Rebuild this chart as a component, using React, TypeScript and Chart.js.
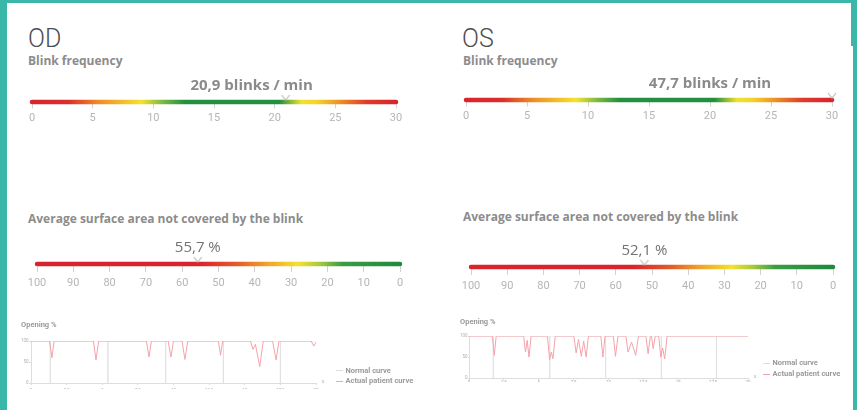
import React, { useEffect, useRef } from "react";
import { Chart, registerables } from "chart.js";

Chart.register(...registerables);

const FONT = "Roboto, 'Noto Sans', sans-serif";
const FONT2 = "'Open Sans', 'Noto Sans', sans-serif";
Chart.defaults.font.family = FONT;

// ---------------- data ----------------
const eyeNames = ["OD", "OS"];
const blinkRates = [20.9, 47.7]; // blinks / min
const uncoveredSurface = [55.7, 52.1]; // %
const blinkScaleTicks = [0, 5, 10, 15, 20, 25, 30];
const surfaceScaleTicks = [100, 90, 80, 70, 60, 50, 40, 30, 20, 10, 0];
const blinkUnit = "blinks / min";
const surfaceUnit = "%";

const timeTicks = [0, 2.5, 5, 7.5, 10, 12.5, 15, 17.5, 20];
const openingTicks = [0, 50, 100];

const odPatientTime = [0, 1.3, 1.47, 1.62, 4.38, 4.56, 4.75, 8.1, 8.28, 8.45, 9.62, 9.82, 10.0, 10.6, 10.8, 11.0, 13.15, 13.3, 13.45, 15.4, 15.58, 15.75, 16.05, 16.3, 16.95, 17.2, 17.4, 19.65, 19.85, 20];
const odPatientOpening = [100, 100, 60, 100, 100, 55, 100, 100, 62, 100, 100, 62, 100, 100, 56, 100, 100, 66, 100, 100, 80, 92, 39, 100, 100, 55, 100, 100, 88, 97];
const odNormalBlinkTimes = [1.35, 5.4, 9.45, 13.5, 17.5];

const osPatientTime = [0, 1.68, 1.81, 1.95, 3.92, 4.05, 4.17, 4.3, 4.45, 5.62, 5.78, 5.9, 6.02, 6.18, 7.52, 7.68, 7.85, 8.05, 8.22, 8.4, 8.56, 9.45, 9.6, 9.75, 10.35, 10.5, 10.68, 11.25, 11.4, 11.65, 11.95, 12.15, 12.68, 12.84, 13.0, 13.08, 13.2, 13.35, 13.6, 13.75, 13.88, 14.03, 14.2, 20];
const osPatientOpening = [100, 100, 54, 100, 100, 62, 90, 50, 100, 100, 44, 62, 46, 100, 100, 60, 92, 52, 88, 50, 100, 100, 50, 100, 100, 52, 100, 100, 62, 86, 54, 100, 100, 58, 100, 100, 70, 100, 100, 50, 72, 46, 100, 100];
const osNormalBlinkTimes = [1.74, 5.79, 9.79, 13.79, 17.74];

const legendNormal = "Normal curve";
const legendPatient = "Actual patient curve";
const openingTitle = "Opening %";

// ---------------- styles ----------------
const TEAL = "#3ab7a9";
const RED = "#d8252d";
const NORMAL_COLOR = "#dedede";
const PATIENT_COLOR = "#f4a3ab";
const blinkStops: [number, string][] = [
  [0, RED], [0.1, "#da2f2b"], [0.18, "#ee8a26"], [0.3, "#f5e22e"], [0.36, "#7ab844"],
  [0.42, "#22903e"], [0.68, "#23903e"], [0.74, "#eee22f"], [0.78, "#f4d52c"],
  [0.84, "#ee9626"], [0.92, "#df3a2b"], [1, RED],
];
const surfaceStops: [number, string][] = [
  [0, RED], [0.45, RED], [0.55, "#e4592a"], [0.63, "#f0a02a"], [0.72, "#f3e12f"],
  [0.78, "#a6c83c"], [0.84, "#3a9d44"], [1, "#1e8a3c"],
];

function makeChevron(color: string) {
  const c = document.createElement("canvas");
  c.width = 10;
  c.height = 20;
  const g = c.getContext("2d")!;
  g.strokeStyle = color;
  g.lineWidth = 1.2;
  g.beginPath();
  g.moveTo(1, 3);
  g.lineTo(5, 8);
  g.lineTo(9, 3);
  g.stroke();
  return c;
}

type GaugeCfg = {
  ticks: number[];
  reverse: boolean;
  value: number;
  unit: string;
  stops: [number, string][];
  labelDx: number;
  labelFont: string;
  labelColor: string;
  tickLength: number;
  tickPad: number;
  axisH: number;
};

function makeGauge(canvas: HTMLCanvasElement, g: GaugeCfg) {
  const min = Math.min(...g.ticks);
  const max = Math.max(...g.ticks);
  const markerValue = Math.min(max, Math.max(min, g.value));
  const labelPlugin = {
    id: "valueLabel",
    afterDatasetsDraw(chart: any) {
      const ctx = chart.ctx;
      const x = chart.scales.x.getPixelForValue(markerValue) + g.labelDx;
      const y = chart.chartArea.bottom - 12.5;
      ctx.save();
      ctx.font = g.labelFont;
      ctx.fillStyle = g.labelColor;
      ctx.textAlign = "center";
      ctx.textBaseline = "alphabetic";
      ctx.fillText(g.value.toFixed(1).replace(".", ",") + " " + g.unit, x, y);
      ctx.restore();
    },
  };
  return new Chart(canvas, {
    type: "scatter",
    data: {
      datasets: [
        {
          data: [{ x: min, y: 0 }, { x: max, y: 0 }],
          showLine: true,
          borderWidth: 4.5,
          borderCapStyle: "round",
          pointRadius: 0,
          clip: false,
          order: 2,
          borderColor: (c: any) => {
            const chart = c.chart;
            const area = chart.chartArea;
            if (!area) return RED;
            const grad = chart.ctx.createLinearGradient(area.left, 0, area.right, 0);
            g.stops.forEach(([o, col]) => grad.addColorStop(o, col));
            return grad;
          },
        } as any,
        {
          data: [{ x: markerValue, y: 0 }],
          showLine: false,
          pointStyle: makeChevron("#bdbdbd"),
          pointRadius: 5,
          clip: false,
          order: 1,
        } as any,
      ],
    },
    options: {
      responsive: false,
      animation: false,
      events: [],
      layout: { padding: { left: 14, right: 14, top: 0, bottom: 0 } },
      plugins: { legend: { display: false }, tooltip: { enabled: false }, title: { display: false } },
      scales: {
        x: {
          type: "linear",
          min,
          max,
          reverse: g.reverse,
          afterBuildTicks: (s: any) => {
            s.ticks = g.ticks.map((v) => ({ value: v }));
          },
          afterFit: (s: any) => {
            s.height = g.axisH;
          },
          grid: { drawOnChartArea: false, drawTicks: true, tickLength: g.tickLength, color: "#d2d2d2", lineWidth: 1 },
          border: { display: false },
          ticks: { font: { size: 11, family: FONT }, color: "#b5b5b5", padding: g.tickPad, maxRotation: 0, autoSkip: false },
        },
        y: { display: false, min: 0, max: 1 },
      },
    } as any,
    plugins: [labelPlugin],
  });
}

type CurveCfg = {
  time: number[];
  opening: number[];
  normal: number[];
  padL: number;
  padR: number;
  yW: number;
  titleGap: number;
  xAxisH: number;
  xPad: number;
  yTick: number;
  yPad: number;
};

function makeCurve(canvas: HTMLCanvasElement, cfg: CurveCfg) {
  const t0 = timeTicks[0];
  const t1 = timeTicks[timeTicks.length - 1];
  const patient = cfg.time.map((t, i) => ({ x: t, y: cfg.opening[i] }));
  const normal = [
    { x: t0, y: 100 },
    ...cfg.normal.flatMap((t) => [{ x: t, y: 100 }, { x: t, y: 0 }, { x: t, y: 100 }]),
    { x: t1, y: 100 },
  ];
  const unitPlugin = {
    id: "unitS",
    afterDraw(chart: any) {
      const ctx = chart.ctx;
      ctx.save();
      ctx.font = "4.5px " + FONT;
      ctx.fillStyle = "#b0b0b0";
      ctx.textBaseline = "middle";
      ctx.fillText("s", chart.chartArea.right + 6, chart.chartArea.bottom - 1);
      ctx.restore();
    },
  };
  return new Chart(canvas, {
    type: "line",
    data: {
      datasets: [
        { label: legendNormal, data: normal, borderColor: NORMAL_COLOR, backgroundColor: NORMAL_COLOR, borderWidth: 0.8, pointRadius: 0, order: 1 },
        { label: legendPatient, data: patient, borderColor: PATIENT_COLOR, backgroundColor: PATIENT_COLOR, borderWidth: 1, pointRadius: 0, order: 0 },
      ],
    },
    options: {
      responsive: false,
      animation: false,
      events: [],
      layout: { padding: { left: cfg.padL, right: cfg.padR, top: 2, bottom: 8 } },
      plugins: {
        tooltip: { enabled: false },
        legend: { display: false },
        title: {
          display: true,
          text: openingTitle,
          align: "start",
          color: "#9a9a9a",
          font: { size: 7.5, weight: "bold", family: FONT },
          padding: { top: 0, bottom: cfg.titleGap },
        },
      },
      scales: {
        x: {
          type: "linear",
          min: t0,
          max: t1,
          afterBuildTicks: (s: any) => {
            s.ticks = timeTicks.map((v) => ({ value: v }));
          },
          afterFit: (s: any) => {
            s.height = cfg.xAxisH;
          },
          grid: { drawOnChartArea: false, tickLength: 2, color: "#dddddd" },
          border: { color: "#dddddd" },
          ticks: {
            font: { size: 4.5, family: FONT },
            color: "#b0b0b0",
            padding: cfg.xPad,
            maxRotation: 0,
            autoSkip: false,
            callback: (v: any) => String(v).replace(".", ","),
          },
        },
        y: {
          min: 0,
          max: 100,
          afterBuildTicks: (s: any) => {
            s.ticks = openingTicks.map((v) => ({ value: v }));
          },
          afterFit: (s: any) => {
            s.width = cfg.yW;
          },
          grid: { drawOnChartArea: false, tickLength: cfg.yTick, color: "#dddddd" },
          border: { color: "#dddddd" },
          ticks: { font: { size: 4.5, family: FONT }, color: "#b0b0b0", padding: cfg.yPad },
        },
      },
    } as any,
    plugins: [unitPlugin],
  });
}

function ChartBox(props: { x: number; y: number; w: number; h: number; make: (c: HTMLCanvasElement) => Chart }) {
  const ref = useRef<HTMLCanvasElement>(null);
  useEffect(() => {
    const chart = props.make(ref.current!);
    return () => chart.destroy();
  }, []);
  return (
    <canvas
      ref={ref}
      width={props.w}
      height={props.h}
      style={{ position: "absolute", left: props.x, top: props.y, width: props.w, height: props.h }}
    />
  );
}

function CurveLegend(props: { x: number; y: number; gap: number }) {
  const rows: [string, string][] = [
    [legendNormal, NORMAL_COLOR],
    [legendPatient, PATIENT_COLOR],
  ];
  return (
    <div style={{ position: "absolute", left: props.x, top: props.y }}>
      {rows.map(([label, color], i) => (
        <div key={label} style={{ position: "absolute", left: 0, top: i * props.gap, height: 10, whiteSpace: "nowrap" }}>
          <span style={{ position: "absolute", left: 0, top: 4.5, width: 6.5, height: 1.2, background: color }} />
          <span
            style={{
              position: "absolute",
              left: 9.5,
              top: 0,
              fontFamily: FONT,
              fontSize: 7.5,
              lineHeight: "10px",
              fontWeight: 700,
              color: "#9a9a9a",
            }}
          >
            {label}
          </span>
        </div>
      ))}
    </div>
  );
}

const headStyle = (x: number, y: number, size: number, weight: number, color: string, family: string): React.CSSProperties => ({
  position: "absolute",
  left: x,
  top: y,
  fontFamily: family,
  fontSize: size,
  lineHeight: size + "px",
  fontWeight: weight,
  color,
  whiteSpace: "nowrap",
});

export default function App() {
  const blinkFont = "bold 15px " + FONT2;
  const surfFont = "500 15px " + FONT2;
  return (
    <div style={{ position: "absolute", left: 0, top: 0, width: 857, height: 410, background: TEAL, overflow: "hidden" }}>
      <div style={{ position: "absolute", left: 7, top: 3, width: 844, height: 407, background: "#ffffff" }} />
      <div style={{ position: "absolute", left: 851, top: 46, width: 2, height: 364, background: "#ffffff" }} />

      <div style={headStyle(28, 25.7, 25, 300, "#4e4e4e", FONT)}>{eyeNames[0]}</div>
      <div style={headStyle(462, 25.7, 25, 300, "#4e4e4e", FONT)}>{eyeNames[1]}</div>
      <div style={headStyle(28, 54.6, 12, 700, "#8c8c8c", FONT2)}>Blink frequency</div>
      <div style={headStyle(463, 54.6, 12, 700, "#8c8c8c", FONT2)}>Blink frequency</div>
      <div style={headStyle(28, 212.9, 12, 700, "#8c8c8c", FONT2)}>Average surface area not covered by the blink</div>
      <div style={headStyle(463, 211.2, 12, 700, "#8c8c8c", FONT2)}>Average surface area not covered by the blink</div>

      <ChartBox x={17.7} y={65.7} w={392} h={60} make={(c) => makeGauge(c, { ticks: blinkScaleTicks, reverse: false, value: blinkRates[0], unit: blinkUnit, stops: blinkStops, labelDx: -34, labelFont: blinkFont, labelColor: "#8a8a8a", tickLength: 6.5, tickPad: 3.6, axisH: 24 })} />
      <ChartBox x={452} y={64} w={394} h={60} make={(c) => makeGauge(c, { ticks: blinkScaleTicks, reverse: false, value: blinkRates[1], unit: blinkUnit, stops: blinkStops, labelDx: -122, labelFont: blinkFont, labelColor: "#8a8a8a", tickLength: 6.5, tickPad: 3.6, axisH: 24 })} />
      <ChartBox x={23.3} y={228} w={391} h={62} make={(c) => makeGauge(c, { ticks: surfaceScaleTicks, reverse: true, value: uncoveredSurface[0], unit: surfaceUnit, stops: surfaceStops, labelDx: 0, labelFont: surfFont, labelColor: "#727272", tickLength: 8, tickPad: 4.5, axisH: 26 })} />
      <ChartBox x={457} y={230.7} w={390} h={62} make={(c) => makeGauge(c, { ticks: surfaceScaleTicks, reverse: true, value: uncoveredSurface[1], unit: surfaceUnit, stops: surfaceStops, labelDx: 0, labelFont: surfFont, labelColor: "#727272", tickLength: 8, tickPad: 4.5, axisH: 26 })} />

      <ChartBox x={17} y={319} w={319} h={78} make={(c) => makeCurve(c, { time: odPatientTime, opening: odPatientOpening, normal: odNormalBlinkTimes, padL: 4, padR: 20, yW: 10, titleGap: 11, xAxisH: 6, xPad: 3.2, yTick: 2, yPad: 0.5 })} />
      <ChartBox x={455} y={315.5} w={313} h={74} make={(c) => makeCurve(c, { time: osPatientTime, opening: osPatientOpening, normal: osNormalBlinkTimes, padL: 5, padR: 20, yW: 9, titleGap: 9.2, xAxisH: 4, xPad: 0, yTick: 1, yPad: 0.5 })} />
      <CurveLegend x={336} y={365.5} gap={10.5} />
      <CurveLegend x={763} y={358} gap={11.2} />
    </div>
  );
}
